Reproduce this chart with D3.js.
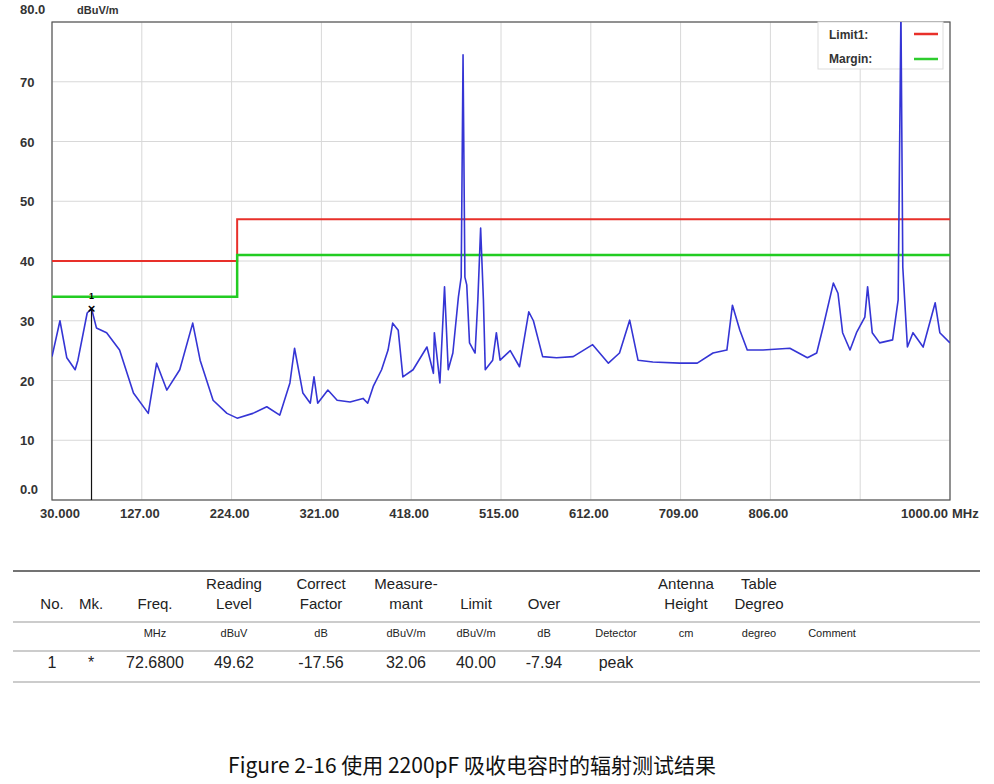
<!DOCTYPE html>
<html><head><meta charset="utf-8">
<script src="https://cdn.jsdelivr.net/npm/d3@7"></script>
<style>body{margin:0;background:#fff}svg{font-family:Arial,"Liberation Sans",sans-serif}</style>
</head><body><svg id="c" width="994" height="784"></svg>
<script>
const freqs=[30,38.6,46,55,58,68,72.68,78,89,103,118,134,143,154,168,182,190,204,219,230,247,262,276,287,292,301,309,313,317,328,338,352,366,371,377,386,393,398,404,409,420,435,442,443,449,454,458,463,469,472,474,476,478,481,487,490,493,496,498,506,510,514,525,535,545,550,560,575,593,614,631,643,654,663,679,708,727,744,759,765,773,781,798,827,846,856,863,874,879,884,892,899,908,911,916,924,938,944,947,949,954,960,971,984,989,1000];
const levels=[24,30,23.8,21.8,23.4,31.3,32.06,28.8,28,25.1,17.9,14.5,22.9,18.4,21.8,29.6,23.4,16.7,14.5,13.7,14.5,15.6,14.2,19.6,25.4,17.9,16.2,20.6,16.2,18.4,16.7,16.4,17,16.2,19,21.8,25.1,29.6,28.4,20.6,21.8,25.6,21.2,28,19.6,35.7,21.8,24.6,34,37.3,74.5,37.3,36,26.3,24.6,33.5,45.5,33.5,21.8,23.4,28,23.4,25,22.3,31.5,30,24,23.8,24,26,22.9,24.6,30.1,23.4,23.1,22.9,22.9,24.6,25.1,32.6,28.4,25.1,25.1,25.4,23.8,24.6,29,36.3,34.6,28,25.1,28,30.6,35.7,28,26.3,26.8,33.5,82,39,25.6,28,25.6,33,28,26.3];
const limitF=[30,230,230,1000], limitV=[40,40,47,47];
const marginF=[30,230,230,1000], marginV=[34,34,41,41];
const xTicks=[30,127,224,321,418,515,612,709,806,903,1000];
const xLabels=["30.000","127.00","224.00","321.00","418.00","515.00","612.00","709.00","806.00","","1000.00"];
const yTicks=[0,10,20,30,40,50,60,70,80];
const yLabels=["0.0","10","20","30","40","50","60","70","80.0"];
const marker={f:72.68,v:32.06,label:"1"};
const header1=["","","","Reading","Correct","Measure-","","","","Antenna","Table",""];
const header2=["No.","Mk.","Freq.","Level","Factor","mant","Limit","Over","","Height","Degreo",""];
const units=["","","MHz","dBuV","dB","dBuV/m","dBuV/m","dB","Detector","cm","degreo","Comment"];
const row=["1","*","72.6800","49.62","-17.56","32.06","40.00","-7.94","peak","","",""];
const colX=[52,91,155,234,321,406,476,544,616,686,759,832];

const svg=d3.select("#c");
const L=52,R=950,T=22,B=500;
const x=d3.scaleLinear().domain([30,1000]).range([L,R]);
const y=d3.scaleLinear().domain([0,80]).range([B,T]);
const g=svg.append("g");
g.selectAll(".vg").data(xTicks).join("line").attr("x1",d=>x(d)).attr("x2",d=>x(d)).attr("y1",T).attr("y2",B).attr("stroke","#d8d8d8");
g.selectAll(".hg").data(yTicks).join("line").attr("y1",d=>y(d)).attr("y2",d=>y(d)).attr("x1",L).attr("x2",R).attr("stroke","#d8d8d8");
svg.append("rect").attr("x",L).attr("y",T).attr("width",R-L).attr("height",B-T).attr("fill","none").attr("stroke","#555").attr("stroke-width",1.2);
svg.append("defs").append("clipPath").attr("id","cp").append("rect").attr("x",L).attr("y",T).attr("width",R-L).attr("height",B-T);
const ln=d3.line().x(d=>x(d[0])).y(d=>y(d[1]));
const lg=svg.append("g");
lg.append("rect").attr("x",818).attr("y",22).attr("width",125).attr("height",47).attr("fill","#fff").attr("stroke","#ddd");
lg.append("text").attr("x",829).attr("y",39).text("Limit1:").attr("font-size",12).attr("font-weight","bold").attr("fill","#333");
lg.append("text").attr("x",829).attr("y",63).text("Margin:").attr("font-size",12).attr("font-weight","bold").attr("fill","#333");
lg.append("line").attr("x1",914).attr("x2",938).attr("y1",34).attr("y2",34).attr("stroke","#e8302a").attr("stroke-width",2.5);
lg.append("line").attr("x1",914).attr("x2",938).attr("y1",59).attr("y2",59).attr("stroke","#2ecc2e").attr("stroke-width",2.5);
svg.append("path").datum(d3.zip(limitF,limitV)).attr("d",ln).attr("fill","none").attr("stroke","#e8302a").attr("stroke-width",2);
svg.append("path").datum(d3.zip(marginF,marginV)).attr("d",ln).attr("fill","none").attr("stroke","#22cc22").attr("stroke-width",2.5);
svg.append("path").datum(d3.zip(freqs,levels)).attr("d",ln).attr("clip-path","url(#cp)").attr("fill","none").attr("stroke","#3535d5").attr("stroke-width",1.6).attr("stroke-linejoin","round");
svg.append("line").attr("x1",x(marker.f)).attr("x2",x(marker.f)).attr("y1",y(marker.v)).attr("y2",B).attr("stroke","#111").attr("stroke-width",1.2);
svg.append("text").attr("x",x(marker.f)).attr("y",y(marker.v)+5).attr("text-anchor","middle").attr("font-size",13).attr("font-weight","bold").text("×");
svg.append("text").attr("x",x(marker.f)).attr("y",y(marker.v)-9).attr("text-anchor","middle").attr("font-size",9).attr("font-weight","bold").text(marker.label);
svg.selectAll(".xl").data(xTicks).join("text").attr("x",(d,i)=>i==0?x(d)+8:x(d)-2).attr("y",518).attr("text-anchor",(d,i)=>i==xTicks.length-1?"end":"middle").attr("font-size",13).attr("font-weight","bold").attr("fill","#333").text((d,i)=>xLabels[i]);
svg.append("text").attr("x",952).attr("y",518).attr("font-size",13).attr("font-weight","bold").attr("fill","#333").text("MHz");
svg.selectAll(".yl").data(yTicks).join("text").attr("x",20).attr("y",d=>d==0?494:d==80?14:y(d)+5).attr("font-size",13).attr("font-weight","bold").attr("fill","#333").text((d,i)=>yLabels[i]);
svg.append("text").attr("x",77).attr("y",14).attr("font-size",11).attr("font-weight","bold").attr("fill","#333").text("dBuV/m");
[571,622,651,682].forEach((yy,i)=>svg.append("line").attr("x1",13).attr("x2",980).attr("y1",yy).attr("y2",yy).attr("stroke",i==0?"#444":"#999").attr("stroke-width",i==0?1.5:1));
const t=svg.append("g").attr("fill","#222").attr("text-anchor","middle");
colX.forEach((cx,i)=>{
 t.append("text").attr("x",cx).attr("y",589).attr("font-size",15).text(header1[i]);
 t.append("text").attr("x",cx).attr("y",609).attr("font-size",15).text(header2[i]);
 t.append("text").attr("x",cx).attr("y",637).attr("font-size",11).text(units[i]);
 t.append("text").attr("x",cx).attr("y",668).attr("font-size",16).text(row[i]);
});
svg.append("text").attr("x",472).attr("y",773).attr("text-anchor","middle").attr("font-size",21).attr("fill","#111").attr("font-family","'Noto Sans CJK SC',sans-serif").text("Figure 2-16 使用 2200pF 吸收电容时的辐射测试结果");
</script></body></html>
